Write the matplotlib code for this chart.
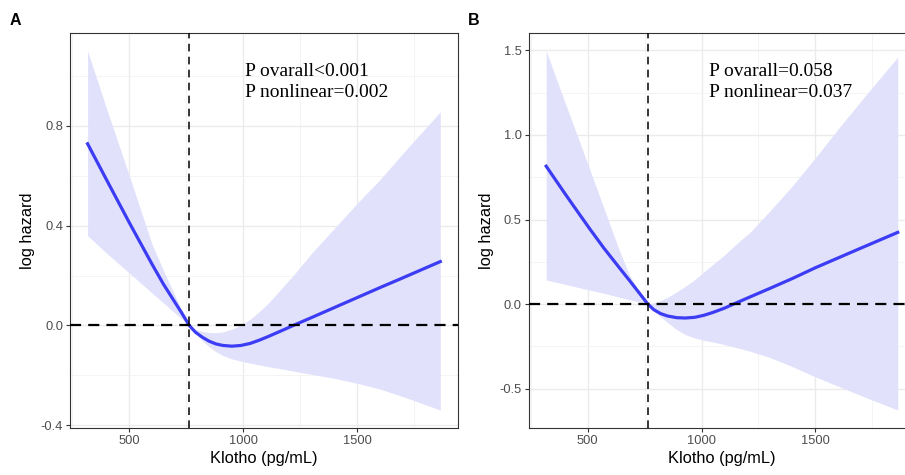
import numpy as np
import matplotlib
matplotlib.use("Agg")
import matplotlib.pyplot as plt
from matplotlib.ticker import MultipleLocator

# --- panel A: Klotho vs log hazard ---
klotho_a = [317, 400, 500, 600, 650, 700, 730, 763, 790, 820, 850, 880, 910,
            950, 990, 1030, 1070, 1110, 1150, 1190, 1219, 1300, 1400, 1500,
            1600, 1700, 1864]
fit_a = [0.728, 0.584, 0.412, 0.245, 0.165, 0.093, 0.05, 0.0, -0.027, -0.047,
         -0.063, -0.074, -0.080, -0.083, -0.080, -0.072, -0.059, -0.044,
         -0.028, -0.012, 0.0, 0.032, 0.072, 0.112, 0.152, 0.191, 0.256]
upper_a = [1.10, 0.87, 0.60, 0.325, 0.22, 0.12, 0.062, 0.0, -0.015, -0.024,
           -0.028, -0.029, -0.026, -0.015, 0.002, 0.025, 0.055, 0.09, 0.13,
           0.172, 0.20, 0.29, 0.39, 0.49, 0.585, 0.69, 0.856]
lower_a = [0.36, 0.29, 0.21, 0.13, 0.09, 0.05, 0.027, 0.0, -0.03, -0.06,
           -0.085, -0.105, -0.12, -0.134, -0.143, -0.151, -0.158, -0.165,
           -0.171, -0.178, -0.183, -0.196, -0.212, -0.232, -0.255, -0.285,
           -0.339]
ref_a = 763
text_a = ["P ovarall<0.001", "P nonlinear=0.002"]
yticks_a = [-0.4, 0.0, 0.4, 0.8]

# --- panel B ---
klotho_b = [317, 400, 450, 510, 570, 635, 680, 720, 764, 790, 820, 850, 890,
            928, 970, 1010, 1050, 1100, 1140, 1217, 1300, 1400, 1500, 1600,
            1700, 1862]
fit_b = [0.815, 0.652, 0.556, 0.442, 0.332, 0.221, 0.145, 0.076, 0.0, -0.033,
         -0.056, -0.07, -0.08, -0.082, -0.078, -0.066, -0.049, -0.024, 0.0,
         0.045, 0.093, 0.152, 0.215, 0.273, 0.331, 0.424]
upper_b = [1.496, 1.19, 1.01, 0.79, 0.57, 0.33, 0.18, 0.09, 0.0, 0.008, 0.022,
           0.04, 0.072, 0.105, 0.145, 0.19, 0.235, 0.29, 0.34, 0.43, 0.55,
           0.70, 0.865, 1.035, 1.2, 1.46]
lower_b = [0.143, 0.117, 0.101, 0.083, 0.064, 0.042, 0.027, 0.014, 0.0, -0.04,
           -0.075, -0.108, -0.15, -0.18, -0.2, -0.213, -0.224, -0.239, -0.252,
           -0.28, -0.315, -0.37, -0.43, -0.485, -0.54, -0.626]
ref_b = 764
text_b = ["P ovarall=0.058", "P nonlinear=0.037"]
yticks_b = [-0.5, 0.0, 0.5, 1.0, 1.5]

SANS = ["Liberation Sans", "DejaVu Sans"]
SERIF = ["Liberation Serif", "DejaVu Serif"]
plt.rcParams["font.family"] = SANS


def expand(lo, hi, frac=0.05):
    """ggplot-like 5% padding"""
    pad = (hi - lo) * frac
    return lo - pad, hi + pad


def draw_panel(ax, x, fit, upper, lower, ref, texts, yticks, text_x):
    ax.fill_between(x, lower, upper, color="#E1E1FB", lw=0, zorder=2)
    ax.plot(x, fit, color="#3C3CF5", lw=2.3, solid_joinstyle="round",
            zorder=3)
    ax.axhline(0, color="black", lw=1.6, ls=(0, (5, 3.2)), zorder=4)
    ax.axvline(ref, color="black", lw=1.1, ls=(0, (5, 3.5)), zorder=4)

    ax.set_xlim(*expand(min(x), max(x)))
    ax.set_ylim(*expand(min(lower), max(upper)))
    ax.set_xticks([500, 1000, 1500])
    ax.xaxis.set_minor_locator(MultipleLocator(250))
    ax.set_yticks(yticks)
    step = yticks[1] - yticks[0]
    ax.yaxis.set_minor_locator(MultipleLocator(step / 2))
    ax.set_yticklabels(["%.1f" % v for v in yticks])

    ax.grid(which="major", color="#EBEBEB", lw=1.0, zorder=0)
    ax.grid(which="minor", color="#F3F3F3", lw=0.6, zorder=0)
    ax.set_axisbelow(True)
    for sp in ax.spines.values():
        sp.set_color("#333333")
        sp.set_linewidth(0.8)
    ax.tick_params(which="major", length=3, width=0.8, color="#333333",
                   labelsize=9.3, labelcolor="#4D4D4D", pad=2)
    ax.tick_params(which="minor", length=0)

    ax.set_xlabel("Klotho (pg/mL)", fontsize=11.8, labelpad=3)
    ax.set_ylabel("log hazard", fontsize=11.8, labelpad=4)

    ax.text(text_x, 0.891, texts[0], transform=ax.transAxes, family=SERIF,
            fontsize=14, va="baseline")
    ax.text(text_x, 0.838, texts[1], transform=ax.transAxes, family=SERIF,
            fontsize=14, va="baseline")
    return ax


fig = plt.figure(figsize=(9.05, 4.75), dpi=100)
ax_a = fig.add_axes([0.0773, 0.0989, 0.4287, 0.8316])
# right part of panel B runs past the image edge, as in the original
ax_b = fig.add_axes([0.5841, 0.0989, 0.4273, 0.8316])

draw_panel(ax_a, klotho_a, fit_a, upper_a, lower_a, ref_a, text_a, yticks_a,
           0.451)
draw_panel(ax_b, klotho_b, fit_b, upper_b, lower_b, ref_b, text_b, yticks_b,
           0.4665)

fig.text(0.011, 0.947, "A", fontsize=11.5, fontweight="bold", va="baseline")
fig.text(0.517, 0.947, "B", fontsize=11.5, fontweight="bold", va="baseline")

fig.savefig("out.png", dpi=100)
